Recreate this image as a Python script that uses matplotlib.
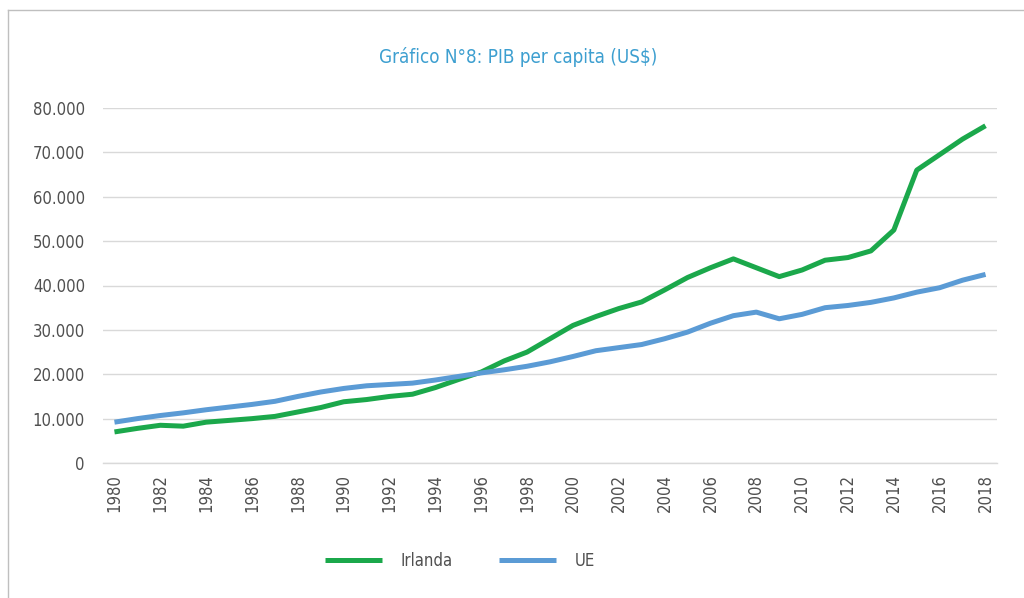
import matplotlib.pyplot as plt
from matplotlib.lines import Line2D
from matplotlib.ticker import FuncFormatter

# datos
anios = list(range(1980, 2019))
irlanda = [7000, 7800, 8500, 8300, 9200, 9600, 10000, 10500, 11500, 12500,
           13800, 14300, 15000, 15500, 17000, 18800, 20500, 23000, 25000, 28000,
           31000, 33000, 34800, 36300, 39000, 41800, 44000, 46000, 44000, 42000,
           43500, 45700, 46300, 47800, 52500, 66000, 69500, 73000, 76000]
ue = [9200, 10000, 10700, 11300, 12000, 12600, 13200, 13900, 15000, 16000,
      16800, 17400, 17700, 18000, 18700, 19500, 20300, 21000, 21800, 22800,
      24000, 25300, 26000, 26700, 28000, 29500, 31500, 33200, 34000, 32500,
      33500, 35000, 35500, 36200, 37200, 38500, 39500, 41200, 42500]
yticks = [0, 10000, 20000, 30000, 40000, 50000, 60000, 70000, 80000]

verde = '#1ba84b'
azul = '#5b9bd5'
gris = '#505050'

plt.rcParams['font.family'] = ['DejaVu Sans']
plt.rcParams['font.stretch'] = 'condensed'

fig = plt.figure(figsize=(10.24, 5.98), dpi=100)
ax = fig.add_axes([103 / 1024, 1 - 463 / 598, 894 / 1024, 355 / 598])

ax.plot(anios, irlanda, color=verde, lw=3.6, solid_capstyle='butt', label='Irlanda')
ax.plot(anios, ue, color=azul, lw=3.6, solid_capstyle='butt', label='UE')

ax.set_xlim(1979.5, 2018.5)
ax.set_ylim(0, 80000)
ax.set_yticks(yticks)
ax.yaxis.set_major_formatter(FuncFormatter(lambda v, p: f'{int(v):,}'.replace(',', '.')))
ax.set_xticks(anios[::2])
ax.tick_params(axis='x', labelrotation=90, length=0, pad=8, labelsize=12, labelcolor=gris)
ax.tick_params(axis='y', length=0, pad=13, labelsize=12, labelcolor=gris)
ax.grid(axis='y', color='#d9d9d9', lw=1)
ax.set_axisbelow(True)
for s in ax.spines.values():
    s.set_visible(False)
ax.axhline(0, color='#d9d9d9', lw=1, zorder=0, clip_on=False)

fig.text(518 / 1024, 1 - 57 / 598, 'Gráfico N°8: PIB per capita (US$)', ha='center', va='center',
         fontsize=13.5, color='#3d9fd0')

fig.legend(loc='center', bbox_to_anchor=(460 / 1024, 1 - 561 / 598), ncol=2, frameon=False,
           fontsize=12, handlelength=3.4, handletextpad=1.1, columnspacing=2.8, labelcolor=gris)

# marco del grafico
fig.add_artist(Line2D([8 / 1024, 8 / 1024], [0, 1 - 10 / 598], transform=fig.transFigure, color='#bfbfbf', lw=1))
fig.add_artist(Line2D([8 / 1024, 1], [1 - 10 / 598, 1 - 10 / 598], transform=fig.transFigure, color='#bfbfbf', lw=1))

fig.savefig('out.png', dpi=100, facecolor='white')
